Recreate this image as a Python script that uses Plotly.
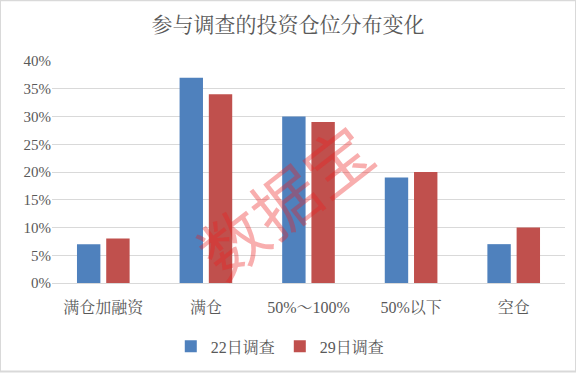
import plotly.graph_objects as go

categories = ["满仓加融资", "满仓", "50%～100%", "50%以下", "空仓"]
series_names = ["22日调查", "29日调查"]
values_22 = [0.07, 0.37, 0.30, 0.19, 0.07]
values_29 = [0.08, 0.34, 0.29, 0.20, 0.10]
colors = ["#4F81BD", "#C0504D"]
title_text = "参与调查的投资仓位分布变化"
watermark = "数据宝"

FONT = "Liberation Serif, Noto Serif CJK SC, Noto Sans CJK SC, serif"

fig = go.Figure()
for name, vals, c in zip(series_names, [values_22, values_29], colors):
    fig.add_trace(go.Bar(x=categories, y=vals, name=name, marker=dict(color=c, line=dict(width=0))))

fig.update_layout(
    width=576, height=373,
    margin=dict(l=52, r=11, t=61, b=89),
    paper_bgcolor="white", plot_bgcolor="white",
    bargap=0.43, bargroupgap=0.2,
    font=dict(family=FONT, size=14, color="#595959"),
    title=dict(text=title_text, x=0.5, xanchor="center", y=0.935, yanchor="middle",
               font=dict(family=FONT, size=21, color="#595959")),
    legend=dict(orientation="h", x=0.445, xanchor="center", y=-0.28, yanchor="middle",
                font=dict(family=FONT, size=16, color="#595959"), itemwidth=30, traceorder="normal"),
    showlegend=True,
    xaxis=dict(showline=True, linecolor="#D9D9D9", linewidth=1, ticks="",
               ticklabelstandoff=10,
               tickfont=dict(family=FONT, size=16, color="#595959")),
    yaxis=dict(range=[0, 0.4], dtick=0.05, tickformat=".0%", showgrid=True,
               gridcolor="#D9D9D9", gridwidth=1, zeroline=False, showline=False,
               ticks="", tickfont=dict(family=FONT, size=15, color="#595959")),
)

fig.add_annotation(text=watermark, xref="paper", yref="paper", x=0.45, y=0.38,
                   showarrow=False, textangle=-38,
                   font=dict(family="Noto Sans CJK SC", size=66, color="rgba(235,30,30,0.36)"))

fig.add_shape(type="rect", xref="paper", yref="paper", x0=-52/513, x1=1+11/513,
              y0=-89/223, y1=1+61/223, line=dict(color="#D9D9D9", width=2), fillcolor="rgba(0,0,0,0)")

fig.write_html("out.html", config={"displayModeBar": False},
               post_script="document.body.style.margin='0';")
